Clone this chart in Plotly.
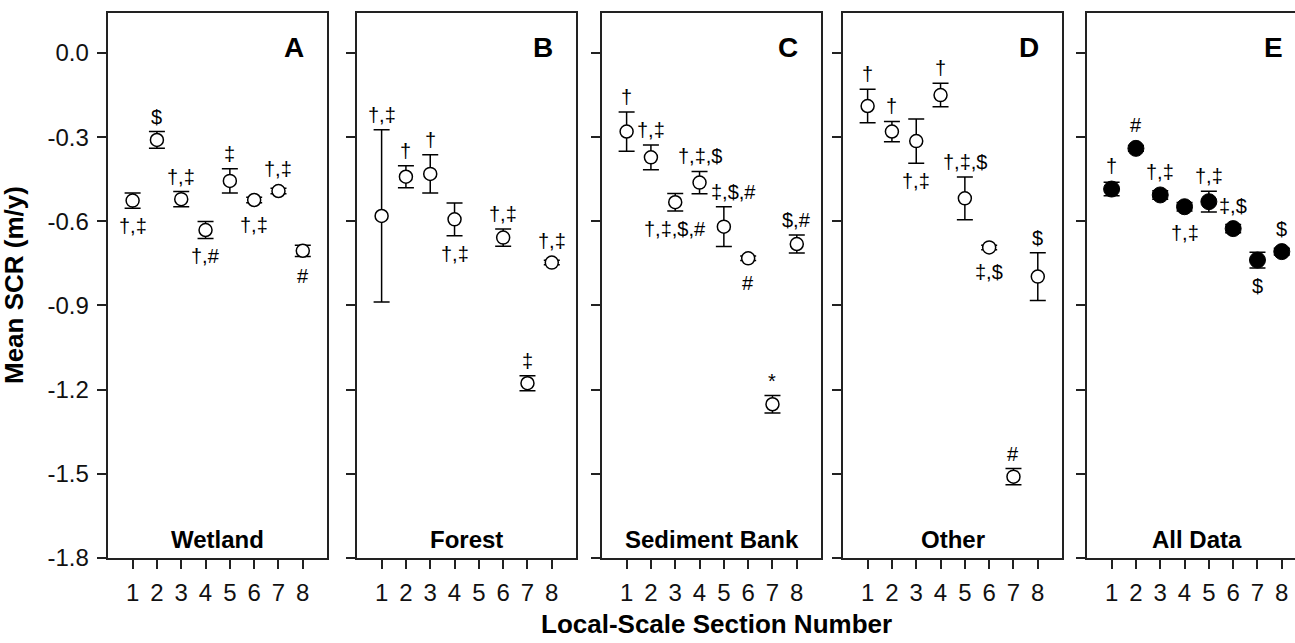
import plotly.graph_objects as go

# ---------------- data ----------------
sections = [1, 2, 3, 4, 5, 6, 7, 8]
section_ticks = ["1", "2", "3", "4", "5", "6", "7", "8"]

y_tick_vals = [0.0, -0.3, -0.6, -0.9, -1.2, -1.5, -1.8]
y_tick_text = ["0.0", "-0.3", "-0.6", "-0.9", "-1.2", "-1.5", "-1.8"]

wet_x = [1, 2, 3, 4, 5, 6, 7, 8]
wet_mean = [-0.526, -0.310, -0.521, -0.631, -0.456, -0.524, -0.492, -0.705]
wet_err = [0.027, 0.030, 0.027, 0.030, 0.043, 0.010, 0.010, 0.020]
wet_lab = ["†,‡", "$", "†,‡", "†,#", "‡", "†,‡", "†,‡", "#"]
wet_pos = ["below", "above", "above", "below", "above", "below", "above", "below"]

for_x = [1, 2, 3, 4, 6, 7, 8]
for_mean = [-0.581, -0.441, -0.431, -0.593, -0.658, -1.177, -0.747]
for_err = [0.307, 0.039, 0.068, 0.058, 0.031, 0.027, 0.008]
for_lab = ["†,‡", "†", "†", "†,‡", "†,‡", "‡", "†,‡"]
for_pos = ["above", "above", "above", "below", "above", "above", "above"]

sed_x = [1, 2, 3, 4, 5, 6, 7, 8]
sed_mean = [-0.280, -0.372, -0.532, -0.462, -0.619, -0.732, -1.252, -0.681]
sed_err = [0.070, 0.044, 0.031, 0.040, 0.071, 0.008, 0.031, 0.032]
sed_lab = ["†", "†,‡", "†,‡,$,#", "†,‡,$", "‡,$,#", "#", "*", "$,#"]
sed_pos = ["above", "above", "below", "above", "above right", "below", "above", "above"]

oth_x = [1, 2, 3, 4, 5, 6, 7, 8]
oth_mean = [-0.189, -0.280, -0.314, -0.150, -0.518, -0.693, -1.510, -0.797]
oth_err = [0.060, 0.036, 0.079, 0.042, 0.076, 0.008, 0.029, 0.085]
oth_lab = ["†", "†", "†,‡", "†", "†,‡,$", "‡,$", "#", "$"]
oth_pos = ["above", "above", "below", "above", "above", "below", "above", "above"]

all_x = [1, 2, 3, 4, 5, 6, 7, 8]
all_mean = [-0.485, -0.340, -0.506, -0.548, -0.530, -0.626, -0.738, -0.708]
all_err = [0.024, 0.010, 0.015, 0.015, 0.037, 0.015, 0.028, 0.012]
all_lab = ["†", "#", "†,‡", "†,‡", "†,‡", "‡,$", "$", "$"]
all_pos = ["above", "above", "above", "below", "above", "above", "below", "above"]

panel_names = ["Wetland", "Forest", "Sediment Bank", "Other", "All Data"]
panel_letters = ["A", "B", "C", "D", "E"]

# ---------------- layout geometry ----------------
W, H = 1295, 643
MT, MB = 13, 85
PLOT_H = H - MT - MB
Y_MIN, Y_MAX = -1.8, 0.1425
PX_PER_UNIT = PLOT_H / (Y_MAX - Y_MIN)
left_px = [108.3, 357.3, 602.3, 843.3, 1087.3]
PANEL_W = 218.8
X_FULL = 9.0

FONT = "Arial, Liberation Sans, sans-serif"
LINE = "#222222"

panels = [
    (wet_x, wet_mean, wet_err, wet_lab, wet_pos, False),
    (for_x, for_mean, for_err, for_lab, for_pos, False),
    (sed_x, sed_mean, sed_err, sed_lab, sed_pos, False),
    (oth_x, oth_mean, oth_err, oth_lab, oth_pos, False),
    (all_x, all_mean, all_err, all_lab, all_pos, True),
]

fig = go.Figure()
layout = dict(
    width=W, height=H,
    margin=dict(l=0, r=0, t=MT, b=MB, pad=0),
    paper_bgcolor="white", plot_bgcolor="white",
    showlegend=False,
    font=dict(family=FONT, color="black"),
)
annotations = []

for i, (xs, ms, es, labs, poss, filled) in enumerate(panels):
    n = "" if i == 0 else str(i + 1)
    x0 = left_px[i] / W
    x1 = min((left_px[i] + PANEL_W) / W, 1.0)
    xmax = X_FULL * (x1 * W - left_px[i]) / PANEL_W
    last = (i == len(panels) - 1)

    if filled:
        marker = dict(symbol="circle", size=16, color="black",
                      line=dict(color="black", width=1))
        radius = 8
    else:
        marker = dict(symbol="circle", size=13, color="white",
                      line=dict(color="black", width=1.5))
        radius = 7

    fig.add_trace(go.Scatter(
        x=xs, y=ms, mode="markers", marker=marker,
        error_y=dict(type="data", array=es, visible=True, color="black",
                     thickness=1.5, width=8),
        xaxis="x" + n, yaxis="y" + n, hoverinfo="skip",
    ))

    layout["xaxis" + n] = dict(
        domain=[x0, x1], range=[0, xmax], anchor="y" + n,
        tickmode="array", tickvals=sections, ticktext=section_ticks,
        ticks="outside", ticklen=9, tickwidth=1.5, tickcolor=LINE,
        showline=True, linecolor=LINE, linewidth=1.5, mirror=True,
        showgrid=False, zeroline=False,
        tickfont=dict(size=24, family=FONT, color="#111111"),
        ticklabelstandoff=3,
    )
    layout["yaxis" + n] = dict(
        domain=[0, 1], range=[Y_MIN, Y_MAX], anchor="x" + n,
        tickmode="array", tickvals=y_tick_vals, ticktext=y_tick_text,
        showticklabels=(i == 0),
        ticks="outside", ticklen=10, tickwidth=1.5, tickcolor=LINE,
        showline=True, linecolor=LINE, linewidth=1.5,
        mirror=(False if last else True),
        showgrid=False, zeroline=False,
        tickfont=dict(size=24, family=FONT, color="#111111"),
        ticklabelstandoff=3,
    )

    # significance labels
    for xv, mv, ev, lab, pos in zip(xs, ms, es, labs, poss):
        reach = max(ev * PX_PER_UNIT, radius)
        shift = reach + 15 if pos.startswith("above") else -(reach + 18)
        xshift = 10 if pos.endswith("right") else 0
        annotations.append(dict(
            x=xv, y=mv, xref="x" + n, yref="y" + n, text=lab,
            showarrow=False, yshift=shift, xshift=xshift,
            xanchor="center", yanchor="middle",
            font=dict(size=20, family=FONT, color="black"),
        ))

    # panel letter
    annotations.append(dict(
        x=7.65, y=0.02, xref="x" + n, yref="y" + n, text="<b>%s</b>" % panel_letters[i],
        showarrow=False, xanchor="center", yanchor="middle",
        font=dict(size=28, family=FONT, color="black"),
    ))
    # panel name
    annotations.append(dict(
        x=4.5, y=-1.733, xref="x" + n, yref="y" + n, text="<b>%s</b>" % panel_names[i],
        showarrow=False, xanchor="center", yanchor="middle",
        font=dict(size=24, family=FONT, color="black"),
    ))

# axis titles
annotations.append(dict(
    x=14 / W, y=(H - MB - 285) / PLOT_H, xref="paper", yref="paper",
    text="<b>Mean SCR (m/y)</b>", textangle=-90, showarrow=False,
    xanchor="center", yanchor="middle",
    font=dict(size=26, family=FONT, color="black"),
))
annotations.append(dict(
    x=716 / W, y=(H - MB - 624) / PLOT_H, xref="paper", yref="paper",
    text="<b>Local-Scale Section Number</b>", showarrow=False,
    xanchor="center", yanchor="middle",
    font=dict(size=26, family=FONT, color="black"),
))

layout["annotations"] = annotations
fig.update_layout(**layout)
fig.write_html("out.html")
